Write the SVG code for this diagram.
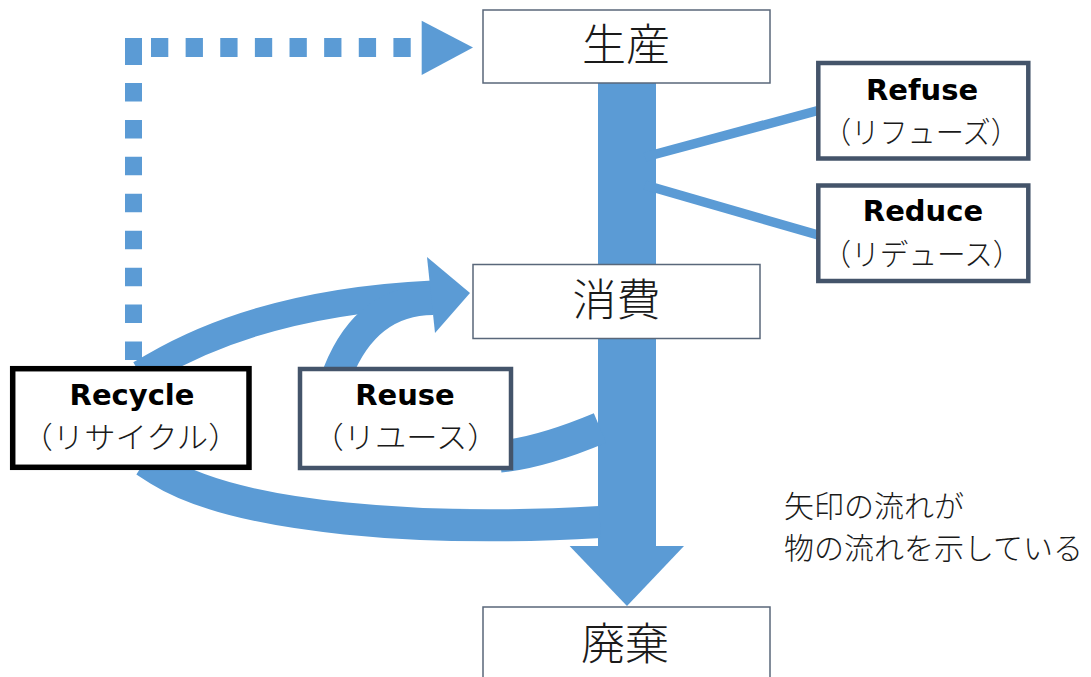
<svg xmlns="http://www.w3.org/2000/svg" width="1091" height="677" viewBox="0 0 1091 677">
<style>
.flow{fill:none;stroke:#5b9bd5}
.fillb{fill:#5b9bd5}
.stage{fill:#fff;stroke:#59677a;stroke-width:1.5}
.rbox{fill:#fff;stroke:#44546a;stroke-width:4.5}
.big{font-family:"Noto Sans CJK JP",sans-serif;font-size:44px;font-weight:300;fill:#1a1a1a;text-anchor:middle}
.en{font-family:"DejaVu Sans","Liberation Sans",sans-serif;font-weight:bold;font-size:29px;fill:#000;text-anchor:middle}
.ja{font-family:"Noto Sans CJK JP",sans-serif;font-size:30px;font-weight:300;fill:#1a1a1a;text-anchor:middle}
.note{font-family:"Noto Sans CJK JP",sans-serif;font-size:30px;font-weight:300;fill:#1a1a1a}
</style>
<g id="connectors">
  <!-- dotted recycle to production -->
  <path class="flow" d="M133.5 360 V83" stroke-width="17" stroke-dasharray="18.5 18.43"/>
  <rect class="fillb" x="125" y="38" width="17" height="27"/>
  <path class="flow" d="M151 47.5 H411" stroke-width="19" stroke-dasharray="17.3 17.33"/>
  <polygon class="fillb" points="421.7,20.7 473,47.5 421.7,75"/>
  <!-- main flow bar -->
  <rect class="fillb" x="598" y="83" width="58" height="464"/>
  <polygon class="fillb" points="569.6,546 684,546 627,606"/>
  <!-- refuse / reduce lines -->
  <line class="flow" x1="645" y1="157" x2="818" y2="110.5" stroke-width="9.5"/>
  <line class="flow" x1="645" y1="185" x2="819" y2="235.3" stroke-width="9.5"/>
  <!-- recycle -> consumption -->
  <path class="flow" d="M140 374 L154 366 Q264 302 433 294" stroke-width="27"/>
  <!-- reuse -> consumption -->
  <path class="flow" d="M336 380 L338 372 Q367 300 433 300" stroke-width="30"/>
  <polygon class="fillb" points="427,257 470,293 435,333"/>
  <!-- bar -> reuse -->
  <path class="flow" d="M500 456.5 Q540 453 600 428" stroke-width="32"/>
  <!-- bar -> recycle -->
  <path class="flow" d="M145 461 L159 470 C239 520 430 532 600 522" stroke-width="32"/>
</g>
<g id="node-seisan">
  <rect class="stage" x="483" y="10" width="287" height="73"/>
  <text class="big" x="626" y="61">生産</text>
</g>
<g id="node-shouhi">
  <rect class="stage" x="473" y="264.5" width="287" height="74"/>
  <text class="big" x="616.5" y="316">消費</text>
</g>
<g id="node-haiki">
  <rect class="stage" x="483" y="607" width="287" height="80"/>
  <text class="big" x="625" y="660">廃棄</text>
</g>
<g id="node-refuse">
  <rect class="rbox" x="818.3" y="63" width="210" height="95.5"/>
  <text class="en" x="922" y="100">Refuse</text>
  <text class="ja" x="921" y="142.5" textLength="196" lengthAdjust="spacingAndGlyphs">（リフューズ）</text>
</g>
<g id="node-reduce">
  <rect class="rbox" x="818.3" y="185.5" width="210" height="95.5"/>
  <text class="en" x="923" y="221">Reduce</text>
  <text class="ja" x="922" y="264.5" textLength="199" lengthAdjust="spacingAndGlyphs">（リデュース）</text>
</g>
<g id="node-recycle">
  <rect x="12.7" y="368.7" width="236.3" height="98.6" fill="#fff" stroke="#000" stroke-width="5.5"/>
  <text class="en" x="132" y="405">Recycle</text>
  <text class="ja" x="130.5" y="447.5" textLength="218" lengthAdjust="spacingAndGlyphs">（リサイクル）</text>
</g>
<g id="node-reuse">
  <rect class="rbox" x="300" y="369" width="211" height="99"/>
  <text class="en" x="405" y="405">Reuse</text>
  <text class="ja" x="405.5" y="447.5" textLength="186" lengthAdjust="spacingAndGlyphs">（リユース）</text>
</g>
<g id="note">
  <text class="note" x="784" y="517">矢印の流れが</text>
  <text class="note" x="784" y="559">物の流れを示している</text>
</g>
</svg>
